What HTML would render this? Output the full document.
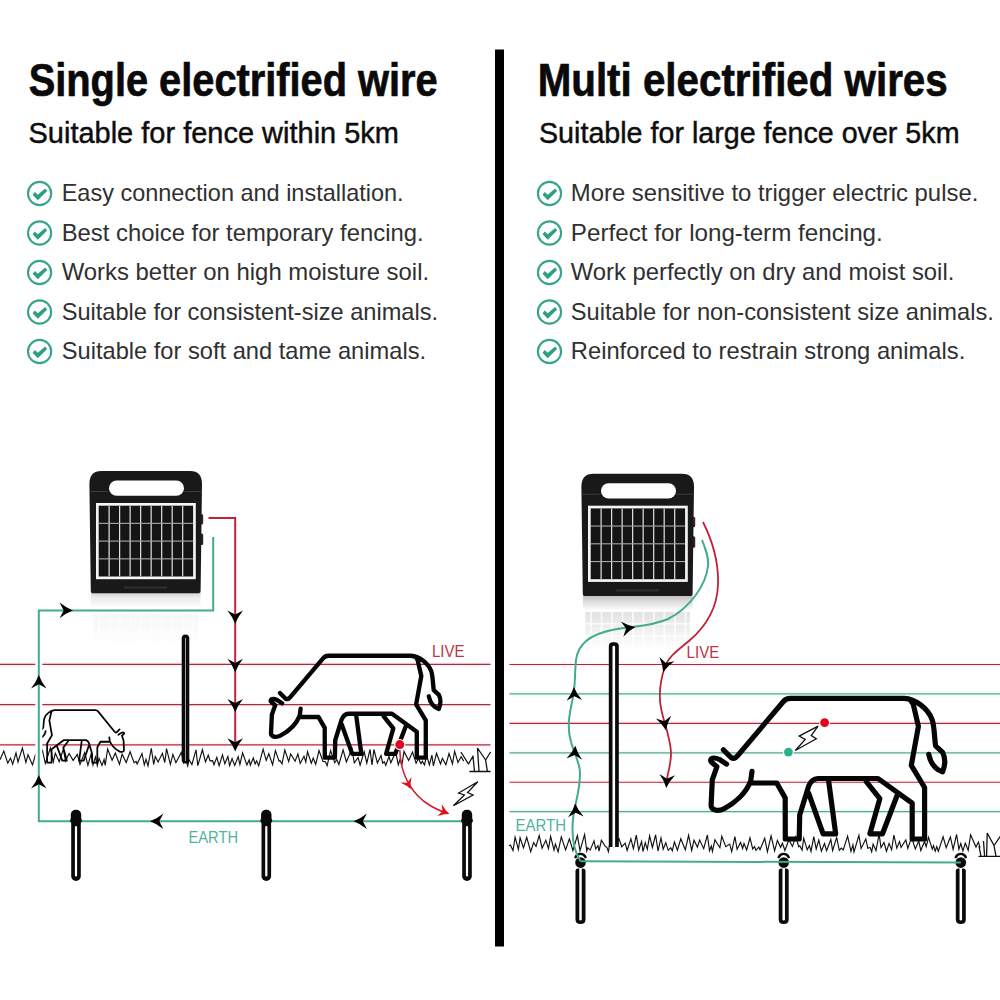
<!DOCTYPE html>
<html><head><meta charset="utf-8"><title>Electric fence wiring</title>
<style>
html,body{margin:0;padding:0;background:#fff;width:1000px;height:1000px;overflow:hidden}
svg{display:block}
text{font-family:"Liberation Sans",sans-serif}
</style></head><body>
<svg width="1000" height="1000" viewBox="0 0 1000 1000">
<rect width="1000" height="1000" fill="#fff"/>

<defs>
<linearGradient id="reflA" x1="0" y1="0" x2="0" y2="1"><stop offset="0" stop-color="#bcbcbc"/><stop offset="0.45" stop-color="#dedede"/><stop offset="1" stop-color="#fbfbfb"/></linearGradient>
<linearGradient id="reflB" x1="0" y1="0" x2="0" y2="1"><stop offset="0" stop-color="#e2e2e2"/><stop offset="0.5" stop-color="#f1f1f1"/><stop offset="1" stop-color="#ffffff"/></linearGradient>
<linearGradient id="reflC" x1="0" y1="0" x2="0" y2="1"><stop offset="0" stop-color="#cfcfcf"/><stop offset="0.4" stop-color="#ececec"/><stop offset="1" stop-color="#fdfdfd"/></linearGradient>
<linearGradient id="reflD" x1="0" y1="0" x2="0" y2="1"><stop offset="0" stop-color="#f5f5f5"/><stop offset="0.5" stop-color="#fafafa"/><stop offset="1" stop-color="#ffffff"/></linearGradient>
<g id="check">
<circle cx="0" cy="0" r="11.6" fill="#fff" stroke="#38a488" stroke-width="2.1"/>
<path d="M-7,1.2 L-4.7,-1.6 L-1.8,1.3 L5.6,-4.9 L7.6,-2.5 L-1.8,6.8 Z" fill="#2f9f82"/>
</g>
</defs>

<rect x="495" y="49.5" width="9" height="897" fill="#000"/>
<text x="28.7" y="96.3" font-size="46" font-weight="bold" fill="#0a0a0a" stroke="#0a0a0a" stroke-width="0.7" textLength="409" lengthAdjust="spacingAndGlyphs">Single electrified wire</text>
<text x="28.5" y="142.5" font-size="30" font-weight="normal" fill="#0d0d0d" stroke="#0d0d0d" stroke-width="0.45" textLength="370.5" lengthAdjust="spacingAndGlyphs">Suitable for fence within 5km</text>
<text x="537.7" y="96.3" font-size="46" font-weight="bold" fill="#0a0a0a" stroke="#0a0a0a" stroke-width="0.7" textLength="410" lengthAdjust="spacingAndGlyphs">Multi electrified wires</text>
<text x="539" y="142.5" font-size="30" font-weight="normal" fill="#0d0d0d" stroke="#0d0d0d" stroke-width="0.45" textLength="420.5" lengthAdjust="spacingAndGlyphs">Suitable for large fence over 5km</text>
<use href="#check" x="39.6" y="193.5"/>
<text x="61.7" y="201" font-size="23.2" font-weight="normal" fill="#303030" textLength="341.90000000000003" lengthAdjust="spacingAndGlyphs">Easy connection and installation.</text>
<use href="#check" x="549.5" y="193.5"/>
<text x="570.8" y="201" font-size="23.2" font-weight="normal" fill="#303030" textLength="407.50000000000006" lengthAdjust="spacingAndGlyphs">More sensitive to trigger electric pulse.</text>
<use href="#check" x="39.6" y="233.0"/>
<text x="61.7" y="240.5" font-size="23.2" font-weight="normal" fill="#303030" textLength="361.90000000000003" lengthAdjust="spacingAndGlyphs">Best choice for temporary fencing.</text>
<use href="#check" x="549.5" y="233.0"/>
<text x="570.8" y="240.5" font-size="23.2" font-weight="normal" fill="#303030" textLength="312.00000000000006" lengthAdjust="spacingAndGlyphs">Perfect for long-term fencing.</text>
<use href="#check" x="39.6" y="272.5"/>
<text x="61.7" y="280" font-size="23.2" font-weight="normal" fill="#303030" textLength="367.40000000000003" lengthAdjust="spacingAndGlyphs">Works better on high moisture soil.</text>
<use href="#check" x="549.5" y="272.5"/>
<text x="570.8" y="280" font-size="23.2" font-weight="normal" fill="#303030" textLength="383.50000000000006" lengthAdjust="spacingAndGlyphs">Work perfectly on dry and moist soil.</text>
<use href="#check" x="39.6" y="312.0"/>
<text x="61.7" y="319.5" font-size="23.2" font-weight="normal" fill="#303030" textLength="376.40000000000003" lengthAdjust="spacingAndGlyphs">Suitable for consistent-size animals.</text>
<use href="#check" x="549.5" y="312.0"/>
<text x="570.8" y="319.5" font-size="23.2" font-weight="normal" fill="#303030" textLength="423.00000000000006" lengthAdjust="spacingAndGlyphs">Suitable for non-consistent size animals.</text>
<use href="#check" x="39.6" y="351.5"/>
<text x="61.7" y="359" font-size="23.2" font-weight="normal" fill="#303030" textLength="364.40000000000003" lengthAdjust="spacingAndGlyphs">Suitable for soft and tame animals.</text>
<use href="#check" x="549.5" y="351.5"/>
<text x="570.8" y="359" font-size="23.2" font-weight="normal" fill="#303030" textLength="394.50000000000006" lengthAdjust="spacingAndGlyphs">Reinforced to restrain strong animals.</text>
<g id="left">
<line x1="0" y1="664.4" x2="490.5" y2="664.4" stroke="#fff5f7" stroke-width="5"/>
<line x1="0" y1="664.4" x2="490.5" y2="664.4" stroke="#a92b40" stroke-width="1.2"/>
<line x1="0" y1="704.6" x2="490.5" y2="704.6" stroke="#fff5f7" stroke-width="5"/>
<line x1="0" y1="704.6" x2="490.5" y2="704.6" stroke="#a92b40" stroke-width="1.2"/>
<line x1="0" y1="744.9" x2="490.5" y2="744.9" stroke="#fff5f7" stroke-width="5"/>
<line x1="0" y1="744.9" x2="490.5" y2="744.9" stroke="#a92b40" stroke-width="1.2"/>
<path d="M0.0,759.7 L3.8,751.0 L7.8,763.1 L10.5,758.1 L12.7,764.2 L16.0,752.8 L18.0,762.0 L22.4,748.1 L25.9,762.5 L28.0,754.7 L32.5,764.9 L35.5,754.6 L38.8,761.1 L42.5,750.5 L45.3,763.4 L50.4,748.0 L53.3,761.9 L55.3,753.3 L59.2,761.6 L63.4,749.0 L65.4,761.1 L69.1,753.4 L73.1,760.4 L77.3,754.3 L80.0,764.4 L84.7,752.6 L87.9,765.3 L91.1,754.1 L93.0,765.0 L95.5,757.0 L97.3,765.7 L99.1,758.3 L102.0,765.4 L104.1,759.4 L105.2,765.5 L107.6,749.0 L112.1,760.3 L115.3,753.1 L119.5,764.3 L122.1,754.2 L126.2,762.5 L130.1,751.7 L134.1,762.7 L136.1,761.4 L137.1,764.1 L142.0,753.5 L144.3,764.9 L146.0,759.2 L148.0,765.8 L151.3,748.3 L153.7,764.5 L155.3,756.4 L158.1,761.9 L162.4,753.3 L164.8,762.5 L166.5,748.6 L170.4,764.4 L172.9,754.4 L175.9,762.7 L181.3,752.4 L183.6,762.2 L184.9,756.5 L187.7,765.9 L189.0,759.8 L191.9,764.5 L196.0,749.8 L197.8,765.6 L202.4,749.8 L205.5,761.9 L208.2,755.2 L210.1,760.8 L212.6,760.7 L214.0,764.7 L216.8,757.3 L219.1,765.8 L222.5,754.9 L224.8,763.8 L227.9,756.5 L229.6,765.5 L232.1,758.7 L234.7,765.5 L238.2,756.8 L239.9,764.5 L242.6,752.8 L246.9,765.0 L249.2,759.9 L250.3,765.2 L253.3,758.0 L255.1,763.9 L256.6,760.8 L258.7,765.7 L263.1,749.1 L266.2,760.5 L268.8,753.7 L272.6,764.8 L275.4,750.6 L279.1,761.2 L280.0,760.6 L282.0,764.0 L284.8,750.0 L288.7,761.4 L290.7,753.9 L295.1,761.2 L297.9,753.9 L300.2,763.4 L304.0,756.2 L305.8,762.1 L307.5,751.6 L311.3,763.3 L313.2,758.1 L315.7,764.4 L319.0,750.6 L323.0,761.4 L325.4,761.8 L327.1,765.7 L330.6,750.6 L334.8,762.7 L336.8,759.5 L338.9,764.5 L343.1,749.9 L346.4,761.9 L351.9,748.7 L354.3,762.9 L358.1,757.5 L360.1,765.2 L364.2,751.8 L366.8,763.2 L370.0,749.3 L372.0,765.0 L373.9,749.5 L377.4,763.0 L381.0,755.5 L382.7,763.2 L384.3,761.8 L385.8,765.3 L389.0,756.3 L390.8,762.8 L395.7,752.2 L398.3,764.8 L400.2,758.9 L401.8,765.5 L404.0,751.4 L408.7,760.4 L412.5,752.1 L416.1,763.2 L418.4,758.5 L421.0,763.8 L422.3,761.2 L424.5,765.0 L426.6,755.2 L429.4,764.9 L431.9,755.1 L433.4,765.9 L436.5,753.3 L440.5,764.0 L442.4,758.4 L445.9,764.8 L449.0,753.5 L452.5,763.8 L454.6,751.2 L458.0,762.4 L461.1,756.7 L463.7,761.1" fill="none" stroke="#111" stroke-width="1.15" stroke-linejoin="miter" stroke-miterlimit="5"/>
<path d="M460.9,752 L468.5,764 L473,756 L474.5,771.5 M477.5,748 L479,771.5 M477.5,748 L485.6,760 L487.4,771.5 M490.6,752 L485.6,760 M469.4,771.5 H490.6" fill="none" stroke="#111" stroke-width="1.3" stroke-linejoin="round"/>
<g transform="translate(89.4,471)"><rect x="1.5" y="121.2" width="109.6" height="15" fill="url(#reflC)"/><rect x="4" y="138.2" width="104.6" height="38" fill="url(#reflD)"/><rect x="8.7" y="138.2" width="1.8" height="38" fill="#fff" opacity="0.5"/><rect x="19.2" y="138.2" width="1.8" height="38" fill="#fff" opacity="0.5"/><rect x="29.7" y="138.2" width="1.8" height="38" fill="#fff" opacity="0.5"/><rect x="40.2" y="138.2" width="1.8" height="38" fill="#fff" opacity="0.5"/><rect x="50.7" y="138.2" width="1.8" height="38" fill="#fff" opacity="0.5"/><rect x="61.1" y="138.2" width="1.8" height="38" fill="#fff" opacity="0.5"/><rect x="71.6" y="138.2" width="1.8" height="38" fill="#fff" opacity="0.5"/><rect x="82.1" y="138.2" width="1.8" height="38" fill="#fff" opacity="0.5"/><rect x="92.6" y="138.2" width="1.8" height="38" fill="#fff" opacity="0.5"/><rect x="103.1" y="138.2" width="1.8" height="38" fill="#fff" opacity="0.5"/><rect x="4" y="149.2" width="104.6" height="1.6" fill="#fff" opacity="0.5"/><rect x="4" y="161.2" width="104.6" height="1.6" fill="#fff" opacity="0.5"/><rect x="110" y="43" width="3.8" height="10.5" rx="1.5" fill="#4a2326"/><rect x="110" y="62.5" width="3.8" height="11.5" rx="1.5" fill="#2b2224"/><path d="M1.4,120.2 L0,13 Q0,0 12,0 H100.6 Q112.6,0 112.6,13 L111.19999999999999,120.2 Q111.19999999999999,122.2 109.19999999999999,122.2 H3.4 Q1.4,122.2 1.4,120.2 Z" fill="#191919"/><path d="M1,20.5 H18 M95,20.5 H111.6" stroke="#3c3c3c" stroke-width="1"/><rect x="19.6" y="9.6" width="75" height="15.2" rx="7.6" fill="#fff"/><rect x="34" y="115.5" width="44" height="2.2" rx="1" fill="#2e2e2e"/><rect x="6.6" y="32" width="99.8" height="76.2" fill="#f4f4f4"/><rect x="9.3" y="34.7" width="94.4" height="70.8" fill="#141414"/><rect x="19.11" y="34.9" width="1.2" height="70.4" fill="#e2e2e2"/><rect x="29.62" y="34.9" width="1.2" height="70.4" fill="#e2e2e2"/><rect x="40.13" y="34.9" width="1.2" height="70.4" fill="#e2e2e2"/><rect x="50.64" y="34.9" width="1.2" height="70.4" fill="#e2e2e2"/><rect x="61.16" y="34.9" width="1.2" height="70.4" fill="#e2e2e2"/><rect x="71.67" y="34.9" width="1.2" height="70.4" fill="#e2e2e2"/><rect x="82.18" y="34.9" width="1.2" height="70.4" fill="#e2e2e2"/><rect x="92.69" y="34.9" width="1.2" height="70.4" fill="#e2e2e2"/><rect x="9.5" y="51.80" width="94" height="1.1" fill="#a8a8a8"/><rect x="9.5" y="69.55" width="94" height="1.1" fill="#a8a8a8"/><rect x="9.5" y="87.30" width="94" height="1.1" fill="#a8a8a8"/></g>
<path d="M723.4,749.8 L731,757.5 Q734.5,759.6 737.7,755.65 L783.2,701.7 Q786,698.45 790.5,698.45 L904.1,698.45 C915,699 928,708 932.2,719.9 C934.5,727 934.2,736 935.6,745.9 L942.6,752.4 Q947,761 942.6,771.9 Q931.5,768 928.8,754.4 M910.5,700.2 L913.2,704 L918.4,726.4 L911.3,765.4 L924.6,787.5 L924.6,839 L912.2,839 L912.2,803.2 L878,778.5 L818,778.5 Q811.5,779 808.7,786 L799.7,815 L799.2,839 L785.3,839 L785.2,797.9 L776.7,783 L750.3,783 M726.6,764.1 L719.5,759.5 Q714,757 711.6,758.6 Q709.6,760.3 711.6,762.2 L716.9,766.7 L713.7,775.8 L712.3,779.7 L711.1,805.7 Q711.4,809.2 716,810.2 Q720,810.8 724,808.7 C735,803 746,793 750.7,781 L752,771.3 M808.7,793.3 L823.1,833.8 L835.7,833.8 L828.5,779.8 M866.3,781.6 L879.8,798.7 L869.9,833.8 L882.5,833.8 L896.9,796" transform="translate(328.2,655.75) scale(0.725) translate(-790,-698.45)" fill="none" stroke="#050505" stroke-width="6.0" stroke-linejoin="round" stroke-linecap="round"/>
<path d="M723.4,749.8 L731,757.5 Q734.5,759.6 737.7,755.65 L783.2,701.7 Q786,698.45 790.5,698.45 L904.1,698.45 C915,699 928,708 932.2,719.9 C934.5,727 934.2,736 935.6,745.9 L942.6,752.4 Q947,761 942.6,771.9 Q931.5,768 928.8,754.4 M910.5,700.2 L913.2,704 L918.4,726.4 L911.3,765.4 L924.6,787.5 L924.6,839 L912.2,839 L912.2,803.2 L878,778.5 L818,778.5 Q811.5,779 808.7,786 L799.7,815 L799.2,839 L785.3,839 L785.2,797.9 L776.7,783 L750.3,783 M726.6,764.1 L719.5,759.5 Q714,757 711.6,758.6 Q709.6,760.3 711.6,762.2 L716.9,766.7 L713.7,775.8 L712.3,779.7 L711.1,805.7 Q711.4,809.2 716,810.2 Q720,810.8 724,808.7 C735,803 746,793 750.7,781 L752,771.3 M808.7,793.3 L823.1,833.8 L835.7,833.8 L828.5,779.8 M866.3,781.6 L879.8,798.7 L869.9,833.8 L882.5,833.8 L896.9,796" transform="translate(95.6,710.2) scale(-0.36,0.373) translate(-790,-698.45)" fill="none" stroke="#050505" stroke-width="4.9" stroke-linejoin="round" stroke-linecap="round"/>
<rect x="181.7" y="634.5" width="7.6" height="129" rx="3.8" fill="#0a0a0a"/>
<rect x="185" y="638" width="1" height="123" fill="#a0a0a0"/>
<path d="M213.2,537 V610.4 H38.8 V821.2 H467" fill="none" stroke="#fff" stroke-width="7" />
<path d="M213.2,537 V610.4 H38.8 V821.2 H467" fill="none" stroke="#42ab90" stroke-width="2"/>
<path d="M208.5,518 H235.2 V748" fill="none" stroke="#c02338" stroke-width="2"/>
<path d="M0,0 Q-6.70,-2.34 -13.40,-7.80 L-9.30,0 L-13.40,7.80 Q-6.70,2.34 0,0 Z" fill="#000" transform="translate(235.2,623.8) rotate(90)"/>
<path d="M0,0 Q-6.70,-2.34 -13.40,-7.80 L-9.30,0 L-13.40,7.80 Q-6.70,2.34 0,0 Z" fill="#000" transform="translate(235.2,672.2) rotate(90)"/>
<path d="M0,0 Q-6.70,-2.34 -13.40,-7.80 L-9.30,0 L-13.40,7.80 Q-6.70,2.34 0,0 Z" fill="#000" transform="translate(235.2,712.3) rotate(90)"/>
<path d="M0,0 Q-6.70,-2.34 -13.40,-7.80 L-9.30,0 L-13.40,7.80 Q-6.70,2.34 0,0 Z" fill="#000" transform="translate(235.2,751.6) rotate(90)"/>
<path d="M0,0 Q-6.70,-2.34 -13.40,-7.80 L-9.30,0 L-13.40,7.80 Q-6.70,2.34 0,0 Z" fill="#000" transform="translate(38.8,675) rotate(-90)"/>
<path d="M0,0 Q-6.70,-2.34 -13.40,-7.80 L-9.30,0 L-13.40,7.80 Q-6.70,2.34 0,0 Z" fill="#000" transform="translate(38.8,775) rotate(-90)"/>
<path d="M0,0 Q-6.70,-2.34 -13.40,-7.80 L-9.30,0 L-13.40,7.80 Q-6.70,2.34 0,0 Z" fill="#000" transform="translate(73,610.4) rotate(0)"/>
<path d="M0,0 Q-6.70,-2.34 -13.40,-7.80 L-9.30,0 L-13.40,7.80 Q-6.70,2.34 0,0 Z" fill="#000" transform="translate(150,821.2) rotate(180)"/>
<path d="M0,0 Q-6.70,-2.34 -13.40,-7.80 L-9.30,0 L-13.40,7.80 Q-6.70,2.34 0,0 Z" fill="#000" transform="translate(353.5,821.2) rotate(180)"/>
<rect x="71.2" y="814" width="9.6" height="67" rx="4.8" fill="#0a0a0a"/><rect x="74.9" y="826" width="2.2" height="50.5" rx="1.1" fill="#fff"/><rect x="70.8" y="809.8" width="10.4" height="14" rx="4.8" fill="#0a0a0a"/><ellipse cx="76" cy="820.6" rx="6" ry="3.6" fill="#0a0a0a"/>
<rect x="261.5" y="814" width="9.6" height="67" rx="4.8" fill="#0a0a0a"/><rect x="265.2" y="826" width="2.2" height="50.5" rx="1.1" fill="#fff"/><rect x="261.1" y="809.8" width="10.4" height="14" rx="4.8" fill="#0a0a0a"/><ellipse cx="266.3" cy="820.6" rx="6" ry="3.6" fill="#0a0a0a"/>
<rect x="462.2" y="814" width="9.6" height="67" rx="4.8" fill="#0a0a0a"/><rect x="465.9" y="826" width="2.2" height="50.5" rx="1.1" fill="#fff"/><rect x="461.8" y="809.8" width="10.4" height="14" rx="4.8" fill="#0a0a0a"/><ellipse cx="467" cy="820.6" rx="6" ry="3.6" fill="#0a0a0a"/>
<text x="432" y="657.2" font-size="17" font-weight="normal" fill="#bd3446" textLength="32.5" lengthAdjust="spacingAndGlyphs">LIVE</text>
<text x="188.5" y="842.7" font-size="17" font-weight="normal" fill="#4fb49c" textLength="49.5" lengthAdjust="spacingAndGlyphs">EARTH</text>
<circle cx="399.8" cy="744.6" r="5.6" fill="#fff"/><circle cx="399.8" cy="744.6" r="4.5" fill="#e1061d"/>
<path d="M399.8,750 C400.5,775 412,795 430,805.5 C437,809.5 443,812 447,813.2" fill="none" stroke="#d51a2a" stroke-width="1.5"/>
<path d="M0,0 Q-5.36,-1.87 -10.72,-6.24 L-7.44,0 L-10.72,6.24 Q-5.36,1.87 0,0 Z" fill="#e0101f" transform="translate(410.8,789.3) rotate(63)"/>
<path d="M0,0 Q-5.36,-1.87 -10.72,-6.24 L-7.44,0 L-10.72,6.24 Q-5.36,1.87 0,0 Z" fill="#e0101f" transform="translate(449.5,814) rotate(21)"/>
<path d="M477.8,781.8 L458.6,793 L464.4,795 L453.4,805.8 L473,795 L467.6,792.6 Z" fill="#fff" stroke="#111" stroke-width="1.3"/>
</g>
<g id="right">
<line x1="509.5" y1="664.5" x2="1000" y2="664.5" stroke="#fff5f7" stroke-width="5"/>
<line x1="509.5" y1="664.5" x2="1000" y2="664.5" stroke="#a92b40" stroke-width="1.15"/>
<line x1="509.5" y1="693.9" x2="1000" y2="693.9" stroke="#f1fdfa" stroke-width="5"/>
<line x1="509.5" y1="693.9" x2="1000" y2="693.9" stroke="#58a691" stroke-width="1.15"/>
<line x1="509.5" y1="723.4" x2="1000" y2="723.4" stroke="#fff5f7" stroke-width="5"/>
<line x1="509.5" y1="723.4" x2="1000" y2="723.4" stroke="#a92b40" stroke-width="1.15"/>
<line x1="509.5" y1="752.8" x2="1000" y2="752.8" stroke="#f1fdfa" stroke-width="5"/>
<line x1="509.5" y1="752.8" x2="1000" y2="752.8" stroke="#58a691" stroke-width="1.15"/>
<line x1="509.5" y1="782.2" x2="1000" y2="782.2" stroke="#fff5f7" stroke-width="5"/>
<line x1="509.5" y1="782.2" x2="1000" y2="782.2" stroke="#a92b40" stroke-width="1.15"/>
<line x1="509.5" y1="811.6" x2="1000" y2="811.6" stroke="#f1fdfa" stroke-width="5"/>
<line x1="509.5" y1="811.6" x2="1000" y2="811.6" stroke="#58a691" stroke-width="1.15"/>
<path d="M509.0,845.7 L510.4,845.0 L513.0,850.6 L515.1,837.2 L518.4,849.4 L520.1,837.7 L523.5,847.9 L526.7,837.3 L530.7,851.7 L533.6,842.5 L536.0,846.4 L539.2,835.6 L542.1,848.2 L545.8,840.3 L548.5,848.6 L550.6,836.4 L554.0,850.1 L555.4,844.0 L558.1,851.9 L561.3,836.9 L565.6,849.9 L569.4,838.8 L572.9,850.5 L577.4,835.5 L580.0,850.6 L584.6,834.6 L586.8,851.0 L587.8,847.9 L590.2,850.1 L594.0,840.9 L595.7,848.9 L598.0,845.6 L599.0,851.1 L601.4,840.3 L605.4,846.6 L606.9,847.3 L608.4,851.6 L611.1,835.3 L614.1,846.8 L618.9,838.5 L621.8,846.8 L625.2,843.2 L627.1,850.5 L630.9,838.8 L633.4,848.8 L636.3,835.2 L638.7,850.1 L641.6,841.5 L643.0,851.5 L645.3,842.7 L647.3,849.3 L649.6,835.9 L652.4,847.5 L655.6,834.9 L658.0,851.0 L661.0,837.9 L663.2,849.2 L665.8,842.7 L668.2,850.3 L670.8,847.8 L672.3,850.9 L674.4,842.1 L677.4,850.2 L680.8,838.8 L685.3,849.8 L688.6,835.3 L691.7,850.5 L694.0,840.2 L697.4,847.1 L699.6,840.1 L703.7,848.7 L707.4,835.0 L709.5,850.6 L711.3,846.0 L712.4,851.4 L714.9,839.8 L719.9,847.7 L721.8,836.2 L725.8,846.7 L729.7,844.1 L731.7,851.6 L734.9,836.7 L737.1,849.3 L740.6,842.5 L742.6,848.5 L744.0,843.5 L746.7,850.0 L750.0,837.9 L752.7,848.9 L754.5,846.6 L756.0,850.3 L758.8,847.0 L760.0,849.7 L764.7,838.2 L767.4,851.8 L771.1,835.9 L774.6,850.8 L777.4,840.4 L780.6,847.3 L782.4,843.2 L784.9,850.5 L788.9,839.7 L792.4,846.4 L795.8,836.6 L798.7,846.7 L799.8,845.9 L802.1,850.1 L803.7,838.2 L807.2,849.8 L809.4,845.6 L811.0,851.4 L813.8,836.7 L816.2,849.0 L818.8,840.0 L821.4,851.2 L824.5,843.6 L826.6,850.6 L830.8,839.5 L832.6,850.5 L836.7,837.5 L839.3,850.3 L841.3,848.0 L843.2,849.9 L847.6,836.1 L851.0,851.4 L852.9,844.9 L854.0,851.8 L858.9,835.4 L861.1,848.4 L865.8,839.0 L867.8,848.3 L870.1,847.4 L871.7,851.8 L873.1,844.1 L876.0,850.5 L879.1,834.2 L881.0,847.6 L884.0,842.5 L886.5,851.2 L889.1,843.4 L891.6,849.9 L893.9,835.0 L896.8,848.1 L899.5,841.5 L901.1,847.4 L905.8,839.9 L907.8,848.5 L911.6,837.4 L915.3,848.9 L918.8,841.1 L920.8,850.5 L924.5,841.5 L926.2,846.7 L928.5,837.4 L932.3,849.1 L933.5,845.6 L935.2,851.1 L936.8,846.6 L938.3,851.4 L943.1,836.8 L946.2,847.8 L950.4,837.0 L953.1,849.4 L956.6,834.5 L958.9,849.3 L960.8,843.5 L962.9,850.9 L965.3,843.2 L968.2,850.3 L970.6,834.8 L976.0,847.1 L978.4,842.1 L980.1,847.6" fill="none" stroke="#111" stroke-width="1.15" stroke-linejoin="miter" stroke-miterlimit="5"/>
<path d="M979,846 L981,856.4 M983.5,841 L984.6,856.4 M987.2,833 L986.6,856.4 M987.2,833 L994,845.5 L996,856.4 M1000.5,836 L994,845.5 M978.5,856.4 H1000" fill="none" stroke="#111" stroke-width="1.3" stroke-linejoin="round"/>
<g transform="translate(581.4,473.7)"><rect x="1.5" y="121.2" width="109.6" height="15" fill="url(#reflA)"/><rect x="4" y="138.2" width="104.6" height="38" fill="url(#reflB)"/><rect x="8.7" y="138.2" width="1.8" height="38" fill="#fff" opacity="0.75"/><rect x="19.2" y="138.2" width="1.8" height="38" fill="#fff" opacity="0.75"/><rect x="29.7" y="138.2" width="1.8" height="38" fill="#fff" opacity="0.75"/><rect x="40.2" y="138.2" width="1.8" height="38" fill="#fff" opacity="0.75"/><rect x="50.7" y="138.2" width="1.8" height="38" fill="#fff" opacity="0.75"/><rect x="61.1" y="138.2" width="1.8" height="38" fill="#fff" opacity="0.75"/><rect x="71.6" y="138.2" width="1.8" height="38" fill="#fff" opacity="0.75"/><rect x="82.1" y="138.2" width="1.8" height="38" fill="#fff" opacity="0.75"/><rect x="92.6" y="138.2" width="1.8" height="38" fill="#fff" opacity="0.75"/><rect x="103.1" y="138.2" width="1.8" height="38" fill="#fff" opacity="0.75"/><rect x="4" y="149.2" width="104.6" height="1.6" fill="#fff" opacity="0.75"/><rect x="4" y="161.2" width="104.6" height="1.6" fill="#fff" opacity="0.75"/><rect x="110" y="43" width="3.8" height="10.5" rx="1.5" fill="#4a2326"/><rect x="110" y="62.5" width="3.8" height="11.5" rx="1.5" fill="#2b2224"/><path d="M1.4,120.2 L0,13 Q0,0 12,0 H100.6 Q112.6,0 112.6,13 L111.19999999999999,120.2 Q111.19999999999999,122.2 109.19999999999999,122.2 H3.4 Q1.4,122.2 1.4,120.2 Z" fill="#191919"/><path d="M1,20.5 H18 M95,20.5 H111.6" stroke="#3c3c3c" stroke-width="1"/><rect x="19.6" y="9.6" width="75" height="15.2" rx="7.6" fill="#fff"/><rect x="34" y="115.5" width="44" height="2.2" rx="1" fill="#2e2e2e"/><rect x="6.6" y="32" width="99.8" height="76.2" fill="#f4f4f4"/><rect x="9.3" y="34.7" width="94.4" height="70.8" fill="#141414"/><rect x="19.11" y="34.9" width="1.2" height="70.4" fill="#e2e2e2"/><rect x="29.62" y="34.9" width="1.2" height="70.4" fill="#e2e2e2"/><rect x="40.13" y="34.9" width="1.2" height="70.4" fill="#e2e2e2"/><rect x="50.64" y="34.9" width="1.2" height="70.4" fill="#e2e2e2"/><rect x="61.16" y="34.9" width="1.2" height="70.4" fill="#e2e2e2"/><rect x="71.67" y="34.9" width="1.2" height="70.4" fill="#e2e2e2"/><rect x="82.18" y="34.9" width="1.2" height="70.4" fill="#e2e2e2"/><rect x="92.69" y="34.9" width="1.2" height="70.4" fill="#e2e2e2"/><rect x="9.5" y="51.80" width="94" height="1.1" fill="#a8a8a8"/><rect x="9.5" y="69.55" width="94" height="1.1" fill="#a8a8a8"/><rect x="9.5" y="87.30" width="94" height="1.1" fill="#a8a8a8"/></g>
<path d="M723.4,749.8 L731,757.5 Q734.5,759.6 737.7,755.65 L783.2,701.7 Q786,698.45 790.5,698.45 L904.1,698.45 C915,699 928,708 932.2,719.9 C934.5,727 934.2,736 935.6,745.9 L942.6,752.4 Q947,761 942.6,771.9 Q931.5,768 928.8,754.4 M910.5,700.2 L913.2,704 L918.4,726.4 L911.3,765.4 L924.6,787.5 L924.6,839 L912.2,839 L912.2,803.2 L878,778.5 L818,778.5 Q811.5,779 808.7,786 L799.7,815 L799.2,839 L785.3,839 L785.2,797.9 L776.7,783 L750.3,783 M726.6,764.1 L719.5,759.5 Q714,757 711.6,758.6 Q709.6,760.3 711.6,762.2 L716.9,766.7 L713.7,775.8 L712.3,779.7 L711.1,805.7 Q711.4,809.2 716,810.2 Q720,810.8 724,808.7 C735,803 746,793 750.7,781 L752,771.3 M808.7,793.3 L823.1,833.8 L835.7,833.8 L828.5,779.8 M866.3,781.6 L879.8,798.7 L869.9,833.8 L882.5,833.8 L896.9,796" transform="" fill="none" stroke="#050505" stroke-width="5.2" stroke-linejoin="round" stroke-linecap="round"/>
<circle cx="788.4" cy="752.1" r="5.4" fill="#fff"/><circle cx="788.4" cy="752.1" r="4.4" fill="#2bb08d"/>
<circle cx="824.6" cy="722.6" r="5.4" fill="#fff"/><circle cx="824.6" cy="722.6" r="4.4" fill="#e1061d"/>
<path d="M818.1,726.2 L799.2,736.1 L805.2,739.4 L795.3,750.5 L816.3,738.8 L811.2,735.5 Z" fill="#fff" stroke="#111" stroke-width="1.3"/>
<path d="M608.8,847 V646.5 Q608.8,642.3 613,642.3 H614.6 Q618.8,642.3 618.8,646.5 V847 Z" fill="#0a0a0a"/>
<path d="M612.5,847.5 V647 Q612.5,645.8 613.8,645.8 Q615.1,645.8 615.1,647 V847.5 Z" fill="#fff"/>
<circle cx="580.5" cy="861" r="8" fill="#fff"/><path d="M575.5,871 Q575.5,868.4 578.0,868.4 H583.0 Q585.5,868.4 585.5,871 V919.5 Q585.5,924 580.5,924 Q575.5,924 575.5,919.5 Z" fill="#0a0a0a"/><path d="M579.25,868 V919.3 Q579.25,920.5 580.5,920.5 Q581.75,920.5 581.75,919.3 V868 Z" fill="#fff"/><path d="M575.5,857.2 A5.4,5.4 0 0 1 585.5,857.2" fill="none" stroke="#0a0a0a" stroke-width="2.4" stroke-linecap="round"/><circle cx="580.5" cy="862.6" r="5.3" fill="#0a0a0a"/>
<circle cx="783.7" cy="861" r="8" fill="#fff"/><path d="M778.7,871 Q778.7,868.4 781.2,868.4 H786.2 Q788.7,868.4 788.7,871 V919.5 Q788.7,924 783.7,924 Q778.7,924 778.7,919.5 Z" fill="#0a0a0a"/><path d="M782.45,868 V919.3 Q782.45,920.5 783.7,920.5 Q784.95,920.5 784.95,919.3 V868 Z" fill="#fff"/><path d="M778.7,857.2 A5.4,5.4 0 0 1 788.7,857.2" fill="none" stroke="#0a0a0a" stroke-width="2.4" stroke-linecap="round"/><circle cx="783.7" cy="862.6" r="5.3" fill="#0a0a0a"/>
<circle cx="960.8" cy="861" r="8" fill="#fff"/><path d="M955.8,871 Q955.8,868.4 958.3,868.4 H963.3 Q965.8,868.4 965.8,871 V919.5 Q965.8,924 960.8,924 Q955.8,924 955.8,919.5 Z" fill="#0a0a0a"/><path d="M959.55,868 V919.3 Q959.55,920.5 960.8,920.5 Q962.05,920.5 962.05,919.3 V868 Z" fill="#fff"/><path d="M955.8,857.2 A5.4,5.4 0 0 1 965.8,857.2" fill="none" stroke="#0a0a0a" stroke-width="2.4" stroke-linecap="round"/><circle cx="960.8" cy="862.6" r="5.3" fill="#0a0a0a"/>
<path d="M580.5,861.3 L960.8,862.5" fill="none" stroke="#42ab90" stroke-width="2"/>
<path d="M702,540 C706,550 709,558 708,566 C706,585 690,608 668,619 C650,627 632,626 612,630 C592,634 578,643 576,660 C574.5,675 575.5,685 573,697 C570,712 567.5,722 569.5,735 C571.5,748 577,756 579.5,768 C582,782 576,800 573.5,815 C571.5,830 572,848 580.5,861.3" fill="none" stroke="#42ab90" stroke-width="2"/>
<path d="M703,522 C712,540 719,560 718,585 C717,610 704,628 690,640 C680,649 668,656 664.5,668 C660,682 658.5,695 661,708 C663.5,722 670,736 671,752 C671.5,764 667.5,772 666.5,783" fill="none" stroke="#c02338" stroke-width="1.8"/>
<path d="M0,0 Q-6.70,-2.34 -13.40,-7.80 L-9.30,0 L-13.40,7.80 Q-6.70,2.34 0,0 Z" fill="#000" transform="translate(635.3,627) rotate(-9)"/>
<path d="M0,0 Q-6.70,-2.34 -13.40,-7.80 L-9.30,0 L-13.40,7.80 Q-6.70,2.34 0,0 Z" fill="#000" transform="translate(573.9,687) rotate(-92)"/>
<path d="M0,0 Q-6.70,-2.34 -13.40,-7.80 L-9.30,0 L-13.40,7.80 Q-6.70,2.34 0,0 Z" fill="#000" transform="translate(575.3,745.8) rotate(-86)"/>
<path d="M0,0 Q-6.70,-2.34 -13.40,-7.80 L-9.30,0 L-13.40,7.80 Q-6.70,2.34 0,0 Z" fill="#000" transform="translate(575.2,803.5) rotate(-93)"/>
<path d="M0,0 Q-6.70,-2.34 -13.40,-7.80 L-9.30,0 L-13.40,7.80 Q-6.70,2.34 0,0 Z" fill="#000" transform="translate(663.2,672) rotate(106)"/>
<path d="M0,0 Q-6.70,-2.34 -13.40,-7.80 L-9.30,0 L-13.40,7.80 Q-6.70,2.34 0,0 Z" fill="#000" transform="translate(665.9,730.3) rotate(80)"/>
<path d="M0,0 Q-6.70,-2.34 -13.40,-7.80 L-9.30,0 L-13.40,7.80 Q-6.70,2.34 0,0 Z" fill="#000" transform="translate(666.3,788) rotate(94)"/>
<text x="686.6" y="657.8" font-size="17" font-weight="normal" fill="#bd3446" textLength="32.8" lengthAdjust="spacingAndGlyphs">LIVE</text>
<text x="515.5" y="831" font-size="17" font-weight="normal" fill="#4fb49c" textLength="50.5" lengthAdjust="spacingAndGlyphs">EARTH</text>
</g>
</svg></body></html>
